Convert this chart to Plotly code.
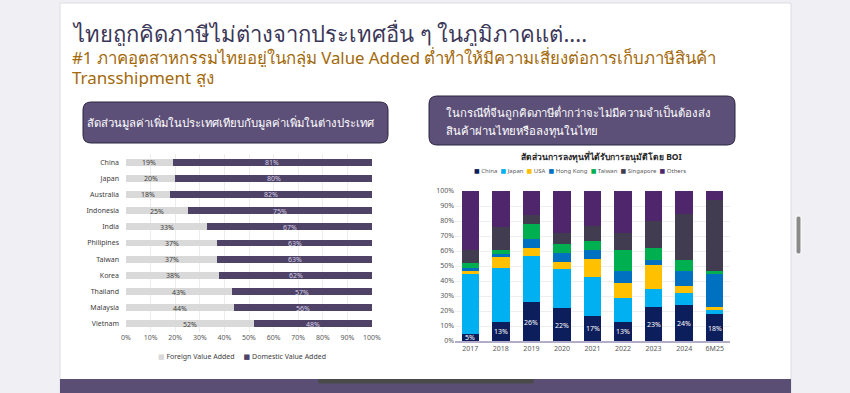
import plotly.graph_objects as go

W, H = 850, 393

# ---------------- data ----------------
left_countries = ["China", "Japan", "Australia", "Indonesia", "India", "Philipines",
                  "Taiwan", "Korea", "Thailand", "Malaysia", "Vietnam"]
foreign_va = [19, 20, 18, 25, 33, 37, 37, 38, 43, 44, 52]
domestic_va = [81, 80, 82, 75, 67, 63, 63, 62, 57, 56, 48]

years = ["2017", "2018", "2019", "2020", "2021", "2022", "2023", "2024", "6M25"]
china = [5, 13, 26, 22, 17, 13, 23, 24, 18]
japan = [40, 36, 31, 26, 26, 16, 12, 8, 3]
usa = [2, 7, 5, 5, 12, 10, 16, 5, 2]
hongkong = [2, 2, 6, 6, 6, 8, 3, 10, 22]
taiwan = [3, 3, 10, 6, 6, 14, 8, 7, 2]
singapore = [9, 15, 6, 7, 10, 11, 18, 31, 47]
others = [39, 24, 16, 28, 23, 28, 20, 15, 6]

series_names = ["China", "Japan", "USA", "Hong Kong", "Taiwan", "Singapore", "Others"]
series_vals = [china, japan, usa, hongkong, taiwan, singapore, others]
series_cols = ["#0c1e5b", "#00b0f0", "#ffc000", "#0070c0", "#00b050", "#423c50", "#4f256c"]

left_x_ticks = list(range(0, 101, 10))
right_y_ticks = list(range(0, 101, 10))

# ---------------- helpers ----------------
def X(px):
    return px / W

def Y(py):
    return 1 - py / H

def rounded_path(x0, y0, x1, y1, r):
    rx, ry = r / W, r / H
    a, b, c, d = X(x0), Y(y1), X(x1), Y(y0)
    return (f"M {a+rx},{b} L {c-rx},{b} Q {c},{b} {c},{b+ry} "
            f"L {c},{d-ry} Q {c},{d} {c-rx},{d} L {a+rx},{d} Q {a},{d} {a},{d-ry} "
            f"L {a},{b+ry} Q {a},{b} {a+rx},{b} Z")

FONT = "Noto Sans, DejaVu Sans, sans-serif"

def ltext(px, py, text, size, color, width, bold=False, hf=1.6):
    t = f"<b>{text}</b>" if bold else text
    return dict(x=X(px), y=Y(py), xref="paper", yref="paper", xanchor="left", yanchor="middle",
                align="left", valign="middle", width=width, height=int(size * hf),
                text=t, showarrow=False, borderpad=0,
                font=dict(size=size, color=color, family=FONT))

def vlabel(x, y, xref, yref, text, color):
    return dict(x=x, y=y, xref=xref, yref=yref, text=text, showarrow=False,
                xanchor="center", yanchor="middle", align="center", valign="middle",
                width=26, height=12, borderpad=0,
                font=dict(size=7, color=color, family=FONT))

LEFT_FG = "#d9d9d9"
LEFT_DOM = "#4e4366"

fig = go.Figure()

# ---------------- left chart ----------------
fig.add_trace(go.Bar(y=left_countries, x=foreign_va, orientation="h", marker_color=LEFT_FG,
                     name="Foreign Value Added", xaxis="x", yaxis="y", showlegend=False,
                     marker_line_width=0, width=0.43, hoverinfo="skip"))
fig.add_trace(go.Bar(y=left_countries, x=domestic_va, orientation="h", marker_color=LEFT_DOM,
                     name="Domestic Value Added", xaxis="x", yaxis="y", showlegend=False,
                     marker_line_width=0, width=0.43, hoverinfo="skip"))

annotations = []
for c, f, d in zip(left_countries, foreign_va, domestic_va):
    annotations.append(vlabel(f / 2, c, "x", "y", f"{f}%", "#404040"))
    annotations.append(vlabel(f + d / 2, c, "x", "y", f"{d}%", "#d6cfe6"))

# ---------------- right chart ----------------
for name, vals, col in zip(series_names, series_vals, series_cols):
    fig.add_trace(go.Bar(x=years, y=vals, name=name, marker_color=col, xaxis="x2", yaxis="y2",
                         showlegend=False, marker_line_width=0, width=0.57, hoverinfo="skip"))

# category index used so numeric-looking year strings are not read as coordinates
for i, v in enumerate(china):
    annotations.append(vlabel(i, v / 2, "x2", "y2", f"{v}%", "white"))

right_leg = "  ".join(f"<span style='color:{c}'>■</span> {n}" for n, c in zip(series_names, series_cols))
annotations.append(ltext(473, 170, right_leg, 6, "#595959", 240))
left_leg = (f"<span style='color:{LEFT_FG}'>■</span> Foreign Value Added"
            f"     <span style='color:{LEFT_DOM}'>■</span> Domestic Value Added")
annotations.append(ltext(157, 356, left_leg, 7, "#404040", 240))

annotations.append(ltext(520, 157, "สัดส่วนการลงทุนที่ได้รับการอนุมัติโดย BOI", 8.5, "#262626", 220, bold=True))
annotations.append(ltext(71, 33, "ไทยถูกคิดภาษีไม่ต่างจากประเทศอื่น ๆ ในภูมิภาคแต่....", 22, "#3b3758", 680, hf=1.2))
annotations.append(ltext(71, 57, "#1 ภาคอุตสาหกรรมไทยอยู่ในกลุ่ม Value Added ต่ำทำให้มีความเสี่ยงต่อการเก็บภาษีสินค้า", 16.8, "#a3690b", 718, hf=1.2))
annotations.append(ltext(71, 77, "Transshipment สูง", 17, "#a3690b", 300, hf=1.2))
annotations.append(ltext(86, 122, "สัดส่วนมูลค่าเพิ่มในประเทศเทียบกับมูลค่าเพิ่มในต่างประเทศ", 11.3, "white", 300))
annotations.append(ltext(445, 112, "ในกรณีที่จีนถูกคิดภาษีต่ำกว่าจะไม่มีความจำเป็นต้องส่ง", 11.3, "white", 288, hf=1.5))
annotations.append(ltext(445, 130, "สินค้าผ่านไทยหรือลงทุนในไทย", 11.3, "white", 288, hf=1.5))

shapes = [
    dict(type="rect", xref="paper", yref="paper", x0=X(60), x1=X(791), y0=Y(393), y1=Y(3),
         fillcolor="white", line=dict(color="#dcdce4", width=1), layer="below"),
    dict(type="rect", xref="paper", yref="paper", x0=X(60), x1=X(791), y0=Y(393), y1=Y(379),
         fillcolor="#5a4e74", line=dict(width=0), layer="above"),
    dict(type="path", xref="paper", yref="paper", path=rounded_path(318, 379, 534, 383.5, 2),
         fillcolor="#4a4a4a", line=dict(width=0), layer="above"),
    dict(type="path", xref="paper", yref="paper", path=rounded_path(796, 216, 801, 254, 2),
         fillcolor="#8a8a8a", line=dict(color="white", width=1), layer="above"),
    dict(type="path", xref="paper", yref="paper", path=rounded_path(83, 102, 388, 143, 8),
         fillcolor="#5c4f78", line=dict(color="#2c2740", width=1), layer="above"),
    dict(type="path", xref="paper", yref="paper", path=rounded_path(429, 96, 735, 145, 8),
         fillcolor="#5c4f78", line=dict(color="#2c2740", width=1), layer="above"),
]

fig.update_layout(
    width=W, height=H,
    margin=dict(l=0, r=0, t=0, b=0, autoexpand=False),
    paper_bgcolor="#efeff4",
    plot_bgcolor="rgba(0,0,0,0)",
    barmode="stack",
    font=dict(family=FONT, size=7, color="#595959"),
    showlegend=False,
    xaxis=dict(domain=[X(126), X(372)], range=[0, 100], tickvals=left_x_ticks,
               ticktext=[f"{t}%" for t in left_x_ticks], showgrid=True, gridcolor="#ececec",
               gridwidth=1, zeroline=False, showline=False, ticks="", automargin=False,
               tickfont=dict(size=7, color="#595959")),
    yaxis=dict(domain=[Y(332), Y(154)], range=[10.5, -0.5], showgrid=False, ticks="",
               showline=False, ticklabelstandoff=6, tickfont=dict(size=7, color="#404040"),
               type="category", categoryorder="array", categoryarray=left_countries,
               automargin=False),
    xaxis2=dict(domain=[X(455), X(730)], anchor="y2", type="category", range=[-0.5, 8.5],
                showgrid=False, ticks="", automargin=False,
                showline=True, linecolor="#b4accb", linewidth=2, tickfont=dict(size=7, color="#595959"),
                categoryorder="array", categoryarray=years),
    yaxis2=dict(domain=[Y(341), Y(191)], anchor="x2", range=[0, 100], tickvals=right_y_ticks,
                ticktext=[f"{t}%" for t in right_y_ticks], showgrid=True, gridcolor="#eeeeee",
                zeroline=False, ticks="", showline=False, automargin=False,
                tickfont=dict(size=7, color="#595959")),
    annotations=annotations,
    shapes=shapes,
)

fig.write_html("out.html", config={"displayModeBar": False, "staticPlot": True},
               post_script="document.body.style.margin='0';document.body.style.overflow='hidden';")
